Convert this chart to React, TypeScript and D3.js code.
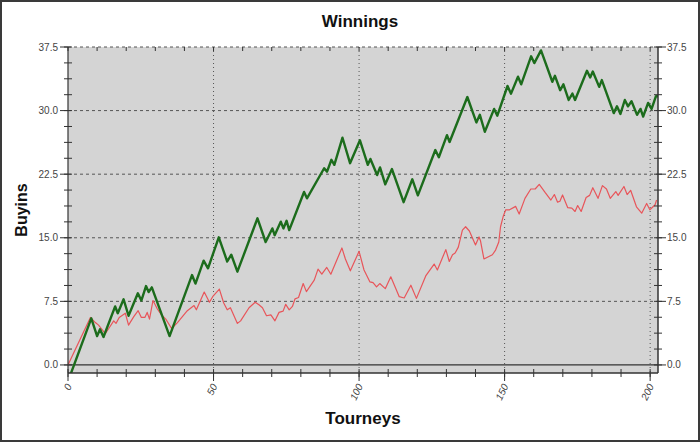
import React from "react";
import * as d3 from "d3";

// Green series (actual winnings) – turning points: tourney index, buyins
const greenT = [1, 8, 10, 11, 12.2, 16.2, 17.1, 19.1, 20.8, 24, 25.2, 26.8, 27.7, 28.8, 34.9, 42.6, 43.8, 46.6, 48.1, 51.8, 54.7, 56.1, 58.2, 65.1, 67.9, 70.2, 71, 73.1, 74, 75.1, 76, 81.1, 82.1, 88, 89, 90.5, 91.5, 94.3, 96.9, 100.3, 103, 103.9, 106.2, 107.2, 109, 111.3, 115.3, 118.3, 120.2, 126.2, 127.4, 130.2, 131.1, 137.2, 140.3, 141.5, 143.2, 146.4, 147.5, 151, 152.2, 154.6, 155.7, 159.1, 160.2, 162.5, 166.4, 167.3, 169.1, 170.2, 172, 173.3, 174.2, 178.3, 179.4, 180.3, 182.5, 183.4, 187.5, 188.6, 189.8, 191.3, 192.4, 193.6, 195.5, 196.7, 197.6, 199.3, 200.5, 202, 202.7];
const greenV = [-1, 5.5, 3.4, 4.2, 3.3, 6.9, 6.1, 7.75, 5.8, 8.45, 7.6, 9.3, 8.6, 9.15, 3.4, 10.6, 9.6, 12.3, 11.4, 15.05, 12.2, 13, 11, 17.3, 14.5, 16.1, 15.3, 16.9, 16.1, 17, 15.9, 20.4, 19.65, 23.2, 22.8, 24.2, 23.6, 26.8, 23.8, 26.5, 23.6, 24.3, 22.4, 23.3, 21.3, 23.1, 19.2, 21.9, 20, 25.35, 24.5, 27.1, 26.3, 31.6, 28.6, 29.5, 27.5, 30.2, 29.4, 32.9, 32, 34.0, 33.1, 36.4, 35.6, 37.1, 33.4, 34.1, 32.4, 33.1, 31.25, 32, 31.25, 34.7, 33.9, 34.6, 32.8, 33.6, 29.7, 30.5, 29.6, 31.25, 30.5, 31.1, 29.5, 30.2, 29.3, 30.9, 30.2, 31.7, 31.7];

// Red series (expected winnings)
const redT = [0, 7.7, 9.4, 10.5, 12.8, 14, 15.7, 16.5, 17.6, 19.7, 20.8, 22.6, 24.1, 25.2, 26.4, 27.2, 28, 29.2, 30.7, 32.1, 33.6, 35.6, 37.6, 39.3, 41, 43.3, 44.1, 46.8, 48.6, 49.7, 52, 53.5, 54.7, 55.8, 58.2, 59.3, 62.2, 64.3, 65.6, 66.8, 68.2, 69.7, 71.1, 72.5, 73.9, 74.8, 76, 77.1, 78, 79.2, 80.8, 81.9, 84.6, 85.9, 87.2, 88.9, 90.3, 94.1, 95.3, 97, 100, 101.7, 103.7, 104.8, 106, 107.1, 109, 110.9, 113.8, 115.5, 117.8, 119.7, 122.9, 125.8, 126.9, 129.8, 131, 132.1, 133, 134.1, 135.5, 136.6, 137.9, 140, 141.2, 141.7, 142.9, 145.8, 146.9, 148, 148.6, 149.5, 150.4, 151.7, 153.8, 155, 157, 159, 160.5, 161.9, 163.9, 165.9, 167.1, 168.2, 169, 169.9, 171.7, 173.1, 174.2, 175.1, 176.3, 178, 179.2, 180.3, 182.1, 183.6, 185, 186.3, 188.2, 189, 191, 192.1, 193.3, 195.3, 197.1, 198.8, 199.9, 201.7, 202.2];
const redV = [0, 5.6, 5.0, 4.7, 3.7, 4.3, 5.2, 4.9, 5.6, 6.1, 4.7, 5.7, 6.4, 5.6, 5.6, 6.2, 5.4, 7.6, 6.6, 5.9, 5.4, 4.3, 5.0, 5.7, 6.4, 7.0, 6.5, 8.6, 7.4, 8.05, 8.95, 7.3, 6.5, 6.75, 4.9, 5.2, 6.75, 7.4, 7.1, 6.75, 5.8, 5.9, 5.2, 6.2, 6.35, 7.15, 6.5, 6.9, 7.8, 7.95, 9.6, 8.65, 10.0, 11.3, 10.7, 11.5, 10.7, 13.8, 12.5, 11.1, 13.4, 11.2, 9.8, 9.7, 9.2, 9.6, 9.0, 10.4, 8.05, 7.9, 9.4, 7.85, 10.5, 11.9, 11.2, 13.6, 12.2, 13.0, 13.2, 13.9, 15.9, 16.3, 15.8, 14.15, 15.1, 14.65, 12.5, 13.0, 13.55, 14.5, 16.3, 17.5, 18.3, 18.3, 18.7, 17.8, 19.65, 20.75, 20.75, 21.3, 20.35, 19.45, 20.1, 19.2, 19.3, 20.05, 18.55, 18.5, 18.1, 18.8, 18.1, 19.75, 20.0, 20.9, 19.65, 21.15, 20.75, 19.65, 20.45, 20.0, 21.05, 20.1, 20.6, 18.65, 17.9, 19.05, 18.3, 18.9, 19.45];

const yTickLabels = [0, 7.5, 15, 22.5, 30, 37.5];
const xTickLabels = [0, 50, 100, 150, 200];

const TITLE = "Winnings";
const X_TITLE = "Tourneys";
const Y_TITLE = "Buyins";

const W = 700;
const H = 442;
const L = 68, R = 658, T = 47, B = 373;
const FONT = "'Liberation Sans', Arial, sans-serif";

export default function App() {
  const x = d3.scaleLinear().domain([0, 202.7]).range([L, R]);
  const y = d3.scaleLinear().domain([-0.95, 37.5]).range([B, T]);

  const green = greenT.map((t, i) => [t, greenV[i]] as [number, number]);
  const red = redT.map((t, i) => [t, redV[i]] as [number, number]);
  const line = d3.line<[number, number]>().x((d) => x(d[0])).y((d) => y(d[1]));

  const minorY = d3.range(0, 37.5 + 0.01, 1.875);
  const minorX = d3.range(0, 201, 10);

  return (
    <div style={{ position: "absolute", left: 0, top: 0 }}>
      <svg width={W} height={H} style={{ display: "block" }}>
        <defs>
          <clipPath id="plotclip">
            <rect x={L} y={T} width={R - L} height={B - T} />
          </clipPath>
        </defs>
        <rect x={1} y={1} width={W - 2} height={H - 2} fill="#ffffff" stroke="#3a3a3a" strokeWidth={2} />
        <rect x={L} y={T} width={R - L} height={B - T} fill="#d4d4d4" />

        {/* horizontal grid */}
        {yTickLabels.filter((v) => v !== 0).map((v) => (
          <line key={"hg" + v} x1={L} x2={R} y1={y(v)} y2={y(v)} stroke="#555" strokeWidth={1} strokeDasharray="3,3" />
        ))}
        <line x1={L} x2={R} y1={y(0)} y2={y(0)} stroke="#333" strokeWidth={1.2} />
        {/* vertical grid */}
        {xTickLabels.filter((v) => v !== 0).map((v) => (
          <line key={"vg" + v} x1={x(v)} x2={x(v)} y1={T} y2={B} stroke="#555" strokeWidth={1} strokeDasharray="1,3" />
        ))}

        {/* series */}
        <g clipPath="url(#plotclip)">
          <path d={line(red) || ""} fill="none" stroke="#e8555a" strokeWidth={1.2} strokeLinejoin="round" />
          <path d={line(green) || ""} fill="none" stroke="#1c6c1c" strokeWidth={2.4} strokeLinejoin="round" />
        </g>

        {/* axes frame */}
        <line x1={L} x2={L} y1={T} y2={B} stroke="#333" strokeWidth={1.2} />
        <line x1={L} x2={R} y1={B} y2={B} stroke="#333" strokeWidth={1.5} />
        <line x1={R} x2={R} y1={T} y2={B} stroke="#333" strokeWidth={1.5} />

        {/* y ticks */}
        {minorY.map((v) => (
          <g key={"ym" + v}>
            <line x1={L - 4} x2={L + 4} y1={y(v)} y2={y(v)} stroke="#333" />
            <line x1={R - 4} x2={R + 4} y1={y(v)} y2={y(v)} stroke="#333" />
          </g>
        ))}
        {yTickLabels.map((v) => (
          <g key={"yl" + v}>
            <line x1={L - 8} x2={L} y1={y(v)} y2={y(v)} stroke="#333" />
            <line x1={R} x2={R + 8} y1={y(v)} y2={y(v)} stroke="#333" />
            <text x={L - 10} y={y(v) + 3.5} textAnchor="end" fontFamily={FONT} fontSize={10} fill="#444">
              {v.toFixed(1)}
            </text>
            <text x={R + 9} y={y(v) + 3.5} textAnchor="start" fontFamily={FONT} fontSize={10} fill="#444">
              {v.toFixed(1)}
            </text>
          </g>
        ))}

        {/* x ticks */}
        {minorX.map((v) => (
          <g key={"xm" + v}>
            <line x1={x(v)} x2={x(v)} y1={B - 4} y2={B + 4} stroke="#333" />
            <line x1={x(v)} x2={x(v)} y1={T} y2={T + 4} stroke="#333" />
          </g>
        ))}
        {xTickLabels.map((v) => (
          <g key={"xl" + v}>
            <line x1={x(v)} x2={x(v)} y1={B} y2={B + 8} stroke="#333" />
            <text
              transform={`translate(${x(v) + 4},${B + 13}) rotate(-65)`}
              textAnchor="end"
              fontFamily={FONT}
              fontSize={10}
              fontStyle="italic"
              fill="#444"
            >
              {v}
            </text>
          </g>
        ))}

        {/* titles */}
        <text x={360} y={27} textAnchor="middle" fontFamily={FONT} fontSize={17} fontWeight="bold" fill="#111">
          {TITLE}
        </text>
        <text x={363} y={424} textAnchor="middle" fontFamily={FONT} fontSize={17} fontWeight="bold" fill="#111">
          {X_TITLE}
        </text>
        <text transform={`translate(27,${(T + B) / 2}) rotate(-90)`} textAnchor="middle" fontFamily={FONT} fontSize={16} fontWeight="bold" fill="#111">
          {Y_TITLE}
        </text>
      </svg>
    </div>
  );
}
